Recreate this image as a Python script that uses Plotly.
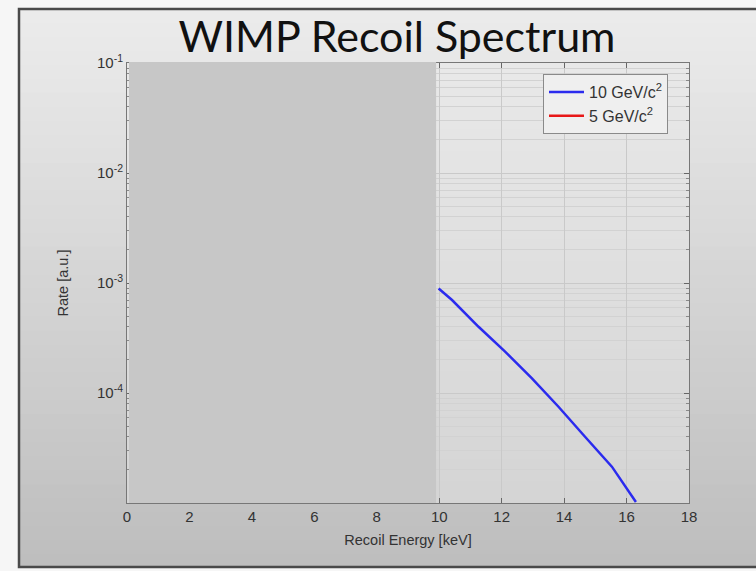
import plotly.graph_objects as go

# ---- data ----
energy_10gev = [9.98, 10.41, 11.26, 12.11, 12.97, 13.82, 14.67, 15.53, 16.30]
rate_10gev = [8.9e-4, 7.0e-4, 4.0e-4, 2.38e-4, 1.36e-4, 7.5e-5, 4.0e-5, 2.14e-5, 1.02e-5]
energy_5gev = [None]
rate_5gev = [None]
series_names = ["10 GeV/c<sup>2</sup>", "5 GeV/c<sup>2</sup>"]
x_ticks = [0, 2, 4, 6, 8, 10, 12, 14, 16, 18]
y_tickvals = [1e-4, 1e-3, 1e-2, 1e-1]
y_ticktext = ["10<sup>-4</sup>", "10<sup>-3</sup>", "10<sup>-2</sup>", "10<sup>-1</sup>"]
y_minor = [k * 10.0 ** e for e in (-5, -4, -3, -2) for k in range(2, 10)]
mask_end = 9.9  # hidden part of the slide (energy)

W, H = 756, 571
L, R, T, B = 127, 689, 63, 503


def px(x):
    return (x - L) / (R - L)


def py(y):
    return (B - y) / (B - T)


def lerp(a, b, t):
    return int(round(a + (b - a) * t))


fig = go.Figure()
fig.add_trace(go.Scatter(x=energy_10gev, y=rate_10gev, mode="lines", name=series_names[0],
                         line=dict(color="#2b2bee", width=2.5), showlegend=True))
fig.add_trace(go.Scatter(x=energy_5gev, y=rate_5gev, mode="lines", name=series_names[1],
                         line=dict(color="#e81818", width=2.5), showlegend=True))

shapes = []
# slide frame gradient (overlapping bands to avoid seams)
top_y, bot_y = 9, 568
n = 40
step = (bot_y - top_y) / n
for i in range(n):
    y0 = top_y + step * i
    y1 = min(bot_y, y0 + step + 2)
    t = (i + 0.5) / n
    c = lerp(236, 189, t)
    shapes.append(dict(type="rect", xref="paper", yref="paper", layer="below",
                       x0=px(19), x1=px(770), y0=py(y1), y1=py(y0),
                       fillcolor=f"rgb({c},{c},{c})", line=dict(width=0)))
# plot area gradient
m = 20
step2 = (B - T) / m
for i in range(m):
    y0 = T + step2 * i
    y1 = min(B, y0 + step2 + 2)
    t = (i + 0.5) / m
    c = lerp(233, 212, t)
    shapes.append(dict(type="rect", xref="paper", yref="paper", layer="below",
                       x0=0, x1=1, y0=py(y1), y1=py(y0),
                       fillcolor=f"rgb({c},{c},{c})", line=dict(width=0)))
# frame border
shapes.append(dict(type="rect", xref="paper", yref="paper", layer="below",
                   x0=px(19), x1=px(770), y0=py(567), y1=py(9),
                   fillcolor="rgba(0,0,0,0)", line=dict(color="#4a4a4a", width=2.5)))
# mask (covers part of the plot on the slide)
shapes.append(dict(type="rect", xref="paper", yref="paper", layer="above",
                   x0=px(129), x1=(mask_end / 18), y0=0, y1=py(62),
                   fillcolor="#c7c7c7", line=dict(width=0)))

fig.update_layout(
    width=W, height=H,
    margin=dict(l=L, r=W - R, t=T, b=H - B),
    paper_bgcolor="#f6f6f6",
    plot_bgcolor="rgba(0,0,0,0)",
    shapes=shapes,
    title=dict(text="WIMP Recoil Spectrum", x=397 / W, y=1 - 37 / H, xref="container", yref="container",
               xanchor="center", yanchor="middle",
               font=dict(family="Lato", size=43, color="#111111")),
    font=dict(family="Liberation Sans, Arial", size=13, color="#333333"),
    showlegend=True,
    legend=dict(x=px(543), y=py(74), xanchor="left", yanchor="top",
                bgcolor="#efefef", bordercolor="#8a8a8a", borderwidth=1,
                font=dict(family="Liberation Sans, Arial", size=16, color="#333333"),
                itemwidth=35, tracegroupgap=2),
)
fig.update_xaxes(range=[0, 18], tickvals=x_ticks, ticks="inside", ticklen=5, tickcolor="#666",
                 showline=True, linecolor="#777", linewidth=1, mirror="ticks",
                 showgrid=True, gridcolor="#c9c9c9", gridwidth=1, zeroline=False, automargin=False,
                 title=dict(text="Recoil Energy [keV]", font=dict(size=14.5, color="#333"), standoff=10),
                 tickfont=dict(size=15, color="#333"))
fig.update_yaxes(type="log", range=[-5, -1], tickvals=y_tickvals, ticktext=y_ticktext,
                 ticks="inside", ticklen=5, tickcolor="#666",
                 showline=True, linecolor="#777", linewidth=1, mirror="ticks",
                 showgrid=True, gridcolor="#c9c9c9", gridwidth=1, zeroline=False, automargin=False,
                 minor=dict(tickvals=y_minor, ticks="inside", ticklen=3, tickcolor="#888", showgrid=True,
                            gridcolor="#d2d2d2", gridwidth=1),
                 title=dict(text="Rate [a.u.]", font=dict(size=14.5, color="#333"), standoff=24),
                 tickfont=dict(size=15, color="#333"))

fig.write_html("out.html", config={"displayModeBar": False},
               post_script="document.body.style.margin='0';document.body.style.background='#f6f6f6';")
